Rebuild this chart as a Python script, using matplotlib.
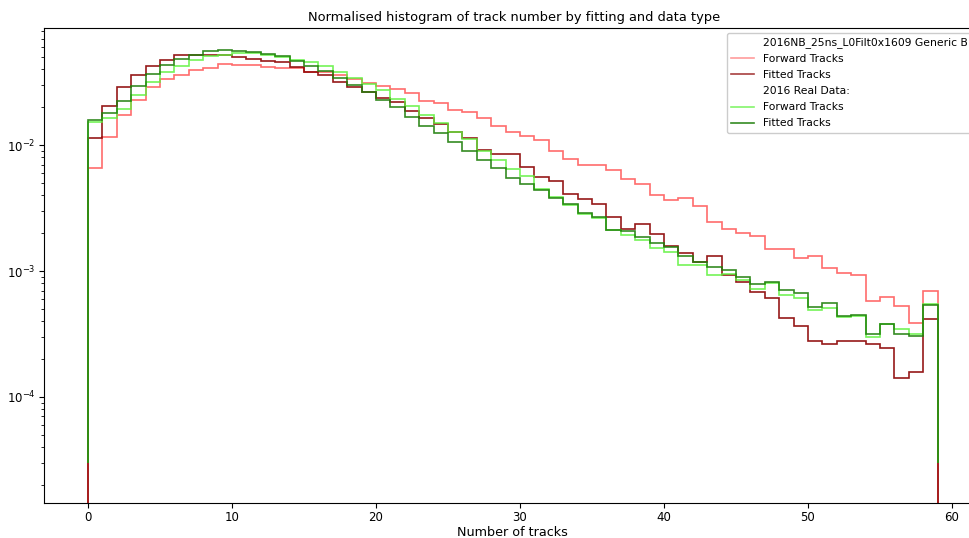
import matplotlib
matplotlib.use("Agg")
import matplotlib.pyplot as plt
from matplotlib.lines import Line2D
import numpy as np

# bin edges: one bin per track count, 0..59
edges = np.arange(0, 60)

mc_forward = [6.57e-3, 0.0115, 0.0174, 0.0227, 0.0290, 0.0336, 0.0361, 0.0392, 0.0408, 0.0442,
              0.0430, 0.0430, 0.0418, 0.0408, 0.0410, 0.0380, 0.0378, 0.0357, 0.0336, 0.0310,
              0.0292, 0.0280, 0.0257, 0.0222, 0.0214, 0.0190, 0.0182, 0.0163, 0.0141, 0.0128,
              0.0119, 0.0109, 0.00896, 0.00769, 0.00690, 0.00698, 0.00630, 0.00534, 0.00490, 0.00404,
              0.00364, 0.00379, 0.00326, 0.00243, 0.00214, 0.00199, 0.00190, 0.00150, 0.00150, 0.00127,
              0.00132, 0.00106, 0.000969, 0.000924, 0.000578, 0.000625, 0.000525, 0.000385, 0.000698]
mc_fitted = [0.01143, 0.0203, 0.0287, 0.0361, 0.0425, 0.0475, 0.0515, 0.0521, 0.0520, 0.0515,
             0.0502, 0.0478, 0.0465, 0.0453, 0.0414, 0.0379, 0.0359, 0.0315, 0.0288, 0.0265,
             0.0235, 0.0218, 0.0188, 0.0163, 0.0148, 0.0126, 0.0113, 0.00913, 0.00853, 0.00844,
             0.00668, 0.00557, 0.00521, 0.00411, 0.00373, 0.00338, 0.00269, 0.00214, 0.00236, 0.00198,
             0.00157, 0.00138, 0.00118, 0.00131, 0.000924, 0.000818, 0.000678, 0.000614, 0.000422, 0.000368,
             0.000280, 0.000262, 0.000280, 0.000280, 0.000262, 0.000245, 0.000141, 0.000158, 0.000418]
data_forward = [0.0153, 0.0165, 0.0194, 0.0251, 0.0315, 0.0378, 0.0424, 0.0470, 0.0512, 0.0518,
                0.0534, 0.0534, 0.0520, 0.0500, 0.0475, 0.0453, 0.0421, 0.0379, 0.0342, 0.0305,
                0.0272, 0.0231, 0.0203, 0.0173, 0.0149, 0.0127, 0.0111, 0.00896, 0.00755, 0.00645,
                0.00564, 0.00445, 0.00385, 0.00332, 0.00282, 0.00264, 0.00210, 0.00192, 0.00176, 0.00151,
                0.00141, 0.00112, 0.00112, 0.000924, 0.000946, 0.000853, 0.000725, 0.000798, 0.000649, 0.000611,
                0.000490, 0.000512, 0.000428, 0.000440, 0.000298, 0.000380, 0.000348, 0.000316, 0.000551]
data_fitted = [0.0157, 0.0179, 0.0223, 0.0292, 0.0364, 0.0429, 0.0484, 0.0520, 0.0555, 0.0565,
               0.0560, 0.0545, 0.0527, 0.0506, 0.0465, 0.0421, 0.0389, 0.0340, 0.0299, 0.0265,
               0.0226, 0.0199, 0.0167, 0.0142, 0.0125, 0.0106, 0.00902, 0.00760, 0.00653, 0.00543,
               0.00487, 0.00439, 0.00377, 0.00338, 0.00290, 0.00270, 0.00213, 0.00209, 0.00186, 0.00167,
               0.00156, 0.00131, 0.00118, 0.00108, 0.00102, 0.000902, 0.000789, 0.000818, 0.000703, 0.000673,
               0.000515, 0.000554, 0.000436, 0.000450, 0.000316, 0.000378, 0.000318, 0.000307, 0.000534]

mc_label = "2016NB_25ns_L0Filt0x1609 Generic B"
data_label = "2016 Real Data:"

c_mc_fwd, c_mc_fit = "#ff3b3b", "#8b0000"
c_dt_fwd, c_dt_fit = "#5cf23a", "#1f7f0a"

fig = plt.figure(figsize=(9.7, 5.38), dpi=100)
# axes run past the right edge of the canvas
ax = fig.add_axes([44 / 970, 35 / 538, 936.7 / 970, 475 / 538])

ax.stairs(mc_forward, edges, baseline=1e-8, color=c_mc_fwd, alpha=0.75, lw=1.2)
ax.stairs(mc_fitted, edges, baseline=1e-8, color=c_mc_fit, alpha=0.9, lw=1.2)
ax.stairs(data_forward, edges, baseline=3e-5, color=c_dt_fwd, alpha=0.85, lw=1.2)
ax.stairs(data_fitted, edges, baseline=3e-5, color=c_dt_fit, alpha=0.9, lw=1.2)

ax.set_yscale("log")
ax.set_xlim(-3.05, 62)
ax.set_ylim(1.44e-5, 0.085)
ax.set_xticks(np.arange(0, 61, 10))
ax.tick_params(labelsize=8.5, pad=2.5)
ax.set_xlabel("Number of tracks", fontsize=9.2, labelpad=1)
fig.text(514 / 970, 1 - 17 / 538, "Normalised histogram of track number by fitting and data type",
         ha="center", va="center", fontsize=9.4)

blank = Line2D([], [], color="none")
handles = [blank,
           Line2D([], [], color=c_mc_fwd, alpha=0.5, lw=1.2),
           Line2D([], [], color=c_mc_fit, alpha=0.75, lw=1.2),
           blank,
           Line2D([], [], color=c_dt_fwd, alpha=0.75, lw=1.2),
           Line2D([], [], color=c_dt_fit, alpha=0.9, lw=1.2)]
labels = [mc_label, "Forward Tracks", "Fitted Tracks", data_label, "Forward Tracks", "Fitted Tracks"]
fig.legend(handles, labels, loc="upper left", bbox_to_anchor=(727 / 970, 1 - 33 / 538),
           fontsize=7.75, handlelength=2.1, labelspacing=0.56, borderaxespad=0, framealpha=1)

fig.savefig("out.png", dpi=100)
